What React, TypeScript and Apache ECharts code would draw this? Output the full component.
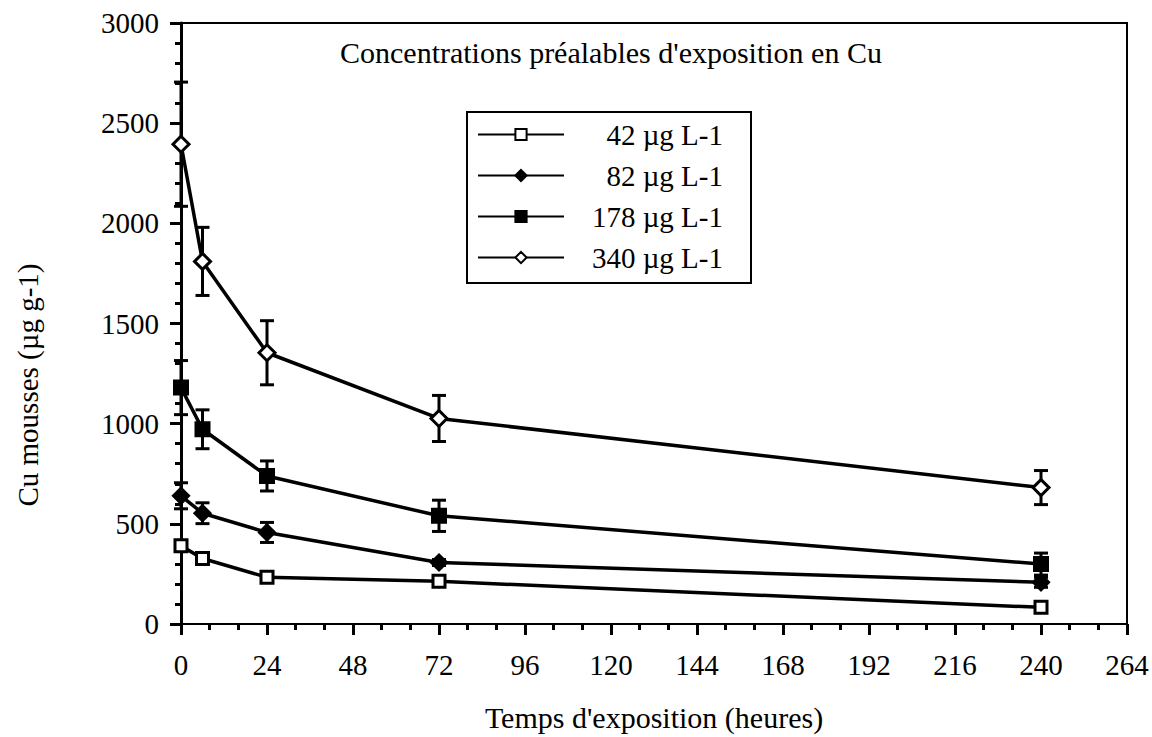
import React, { useEffect, useRef } from "react";
import * as echarts from "echarts";

const FONT = '"Liberation Serif", "Times New Roman", serif';

const times = [0, 6, 24, 72, 240];
const seriesNames = ["42 µg L-1", "82 µg L-1", "178 µg L-1", "340 µg L-1"];
const c42 = [390, 327, 233, 213, 83];
const c82 = [640, 553, 457, 307, 208];
const c178 = [1180, 972, 739, 540, 299];
const c340 = [2395, 1810, 1354, 1026, 681];
const e42 = [0, 0, 0, 0, 0];
const e82 = [65, 52, 50, 15, 25];
const e178 = [135, 97, 75, 78, 55];
const e340 = [310, 170, 160, 115, 85];
const xTicks = [0, 24, 48, 72, 96, 120, 144, 168, 192, 216, 240, 264];
const yTicks = [0, 500, 1000, 1500, 2000, 2500, 3000];

const values = [c42, c82, c178, c340];
const errors = [e42, e82, e178, e340];
const symbols = ["rect", "diamond", "rect", "diamond"];
const symbolSizes = [12, 15, 13, 16];
const fills = ["#fff", "#000", "#000", "#fff"];

export default function App() {
  const ref = useRef<HTMLDivElement>(null);
  useEffect(() => {
    if (!ref.current) return;
    const chart = echarts.init(ref.current, null, { renderer: "svg" });

    const lineSeries = seriesNames.map((name, i) => ({
      name,
      type: "line",
      data: times.map((t, j) => [t, values[i][j]]),
      symbol: symbols[i],
      symbolSize: symbolSizes[i],
      showSymbol: true,
      clip: false,
      z: 3,
      lineStyle: { color: "#000", width: 3.5 },
      itemStyle: { color: fills[i], borderColor: "#000", borderWidth: 3 },
      emphasis: { disabled: true },
    }));

    const errData: number[][] = [];
    errors.forEach((errs, i) => {
      errs.forEach((e, j) => {
        if (e > 0) errData.push([times[j], values[i][j] - e, values[i][j] + e]);
      });
    });

    const errorSeries = {
      type: "custom",
      name: "err",
      data: errData,
      clip: false,
      z: 2,
      encode: { x: 0, y: [1, 2] },
      renderItem: (params: any, api: any) => {
        const x = api.value(0);
        const lo = api.coord([x, api.value(1)]);
        const hi = api.coord([x, api.value(2)]);
        const w = 7;
        const st = { stroke: "#000", lineWidth: 3 };
        return {
          type: "group",
          children: [
            { type: "line", shape: { x1: lo[0], y1: lo[1], x2: hi[0], y2: hi[1] }, style: st },
            { type: "line", shape: { x1: lo[0] - w, y1: lo[1], x2: lo[0] + w, y2: lo[1] }, style: st },
            { type: "line", shape: { x1: hi[0] - w, y1: hi[1], x2: hi[0] + w, y2: hi[1] }, style: st },
          ],
        };
      },
    };

    chart.setOption({
      animation: false,
      backgroundColor: "#fff",
      title: {
        text: "Concentrations préalables d'exposition en Cu",
        left: 335,
        top: 32,
        textStyle: { fontFamily: FONT, fontWeight: "normal", fontSize: 30, color: "#000" },
      },
      legend: {
        data: seriesNames,
        orient: "vertical",
        left: 467,
        top: 112,
        padding: [8, 28, 11, 10],
        itemWidth: 86,
        itemHeight: 14,
        itemGap: 12,
        borderColor: "#000",
        borderWidth: 2,
        selectedMode: false,
        formatter: (name: string) => `{a|${name}}`,
        textStyle: {
          color: "#000",
          rich: {
            a: { width: 154, align: "right", fontSize: 29, fontFamily: FONT, lineHeight: 24, color: "#000" },
          },
        },
      },
      graphic: [
        {
          type: "text",
          x: 28,
          y: 385,
          rotation: Math.PI / 2,
          style: {
            text: "Cu mousses (µg g-1)",
            fontFamily: FONT,
            fontSize: 29,
            fill: "#000",
            align: "center",
            verticalAlign: "middle",
          },
        },
      ],
      grid: {
        left: 181,
        right: 25,
        top: 23,
        bottom: 110,
        show: true,
        borderColor: "#000",
        borderWidth: 2,
        containLabel: false,
      },
      xAxis: {
        type: "value",
        min: xTicks[0],
        max: xTicks[xTicks.length - 1],
        interval: 24,
        name: "Temps d'exposition (heures)",
        nameLocation: "middle",
        nameGap: 78,
        nameTextStyle: { fontFamily: FONT, fontSize: 30, color: "#000" },
        axisLine: { show: true, lineStyle: { color: "#000", width: 2 } },
        axisTick: { show: true, length: 11, lineStyle: { color: "#000", width: 3 } },
        minorTick: { show: true, splitNumber: 3, length: 6, lineStyle: { color: "#000", width: 3 } },
        splitLine: { show: false },
        axisLabel: { margin: 26, fontFamily: FONT, fontSize: 29, color: "#000" },
      },
      yAxis: {
        type: "value",
        min: yTicks[0],
        max: yTicks[yTicks.length - 1],
        interval: 500,
        axisLine: { show: true, lineStyle: { color: "#000", width: 3 } },
        axisTick: { show: true, length: 11, lineStyle: { color: "#000", width: 3 } },
        minorTick: { show: true, splitNumber: 5, length: 6, lineStyle: { color: "#000", width: 3 } },
        splitLine: { show: false },
        axisLabel: {
          margin: 22,
          fontFamily: FONT,
          fontSize: 29,
          color: "#000",
          formatter: (v: number) => String(v),
        },
      },
      series: [errorSeries, ...lineSeries],
    });
    return () => chart.dispose();
  }, []);
  return (
    <div
      ref={ref}
      style={{ position: "fixed", left: 0, top: 0, width: 1152, height: 737, background: "#fff" }}
    />
  );
}
